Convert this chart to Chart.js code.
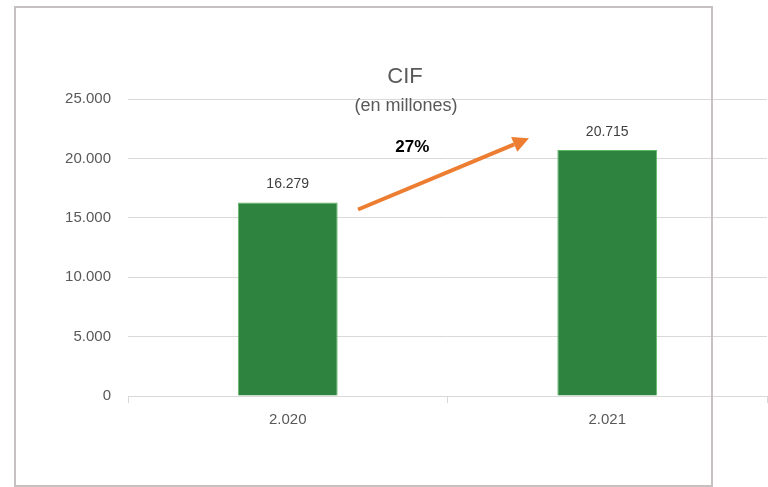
<!DOCTYPE html>
<html>
<head>
<meta charset="utf-8">
<script src="https://cdn.jsdelivr.net/npm/chart.js@4/dist/chart.umd.min.js"></script>
<style>
    html, body { margin: 0; padding: 0; background: #fff; }
    #wrap { position: relative; width: 768px; height: 487px; }
    #marco {
        position: absolute; left: 14px; top: 6px; width: 699px; height: 481px;
        box-sizing: border-box; border: 2px solid #c6c0c0; pointer-events: none;
    }
</style>
</head>
<body>
<div id="wrap">
    <canvas id="graficaCIF" width="768" height="487"></canvas>
    <div id="marco"></div>
</div>
<script>
const anios = ['2.020', '2.021'];
const valoresCIF = [16279, 20715];
const ticksY = [0, 5000, 10000, 15000, 20000, 25000];

// flecha de variacion: [indice categoria, valor]
const flechaDesde = [0.22, 15700];
const flechaHasta = [0.755, 21700];
const posPorcentaje = [0.39, 20960];

const fuente = "'Liberation Sans', Arial, sans-serif";

function formatoMiles(v) {
    return v.toString().replace(/\B(?=(\d{3})+(?!\d))/g, '.');
}

const extras = {
    id: 'extras',
    afterDraw(chart) {
        const ctx = chart.ctx;
        const x = chart.scales.x, y = chart.scales.y;
        ctx.save();

        // titulo
        ctx.fillStyle = '#595959';
        ctx.textAlign = 'center';
        ctx.textBaseline = 'middle';
        ctx.font = `22px ${fuente}`;
        ctx.fillText('CIF', 405, 77);
        ctx.font = `18px ${fuente}`;
        ctx.fillText('(en millones)', 406, 106);

        // etiquetas de valor
        ctx.font = `14px ${fuente}`;
        ctx.fillStyle = '#404040';
        chart.getDatasetMeta(0).data.forEach((bar, i) => {
            ctx.fillText(formatoMiles(valoresCIF[i]), bar.x, bar.y - 18);
        });

        // flecha
        const x1 = x.getPixelForValue(flechaDesde[0]), y1 = y.getPixelForValue(flechaDesde[1]);
        const x2 = x.getPixelForValue(flechaHasta[0]), y2 = y.getPixelForValue(flechaHasta[1]);
        const ang = Math.atan2(y2 - y1, x2 - x1);
        const largo = 16, ancho = 8;
        ctx.strokeStyle = '#ED7D31';
        ctx.fillStyle = '#ED7D31';
        ctx.lineWidth = 4;
        ctx.beginPath();
        ctx.moveTo(x1, y1);
        ctx.lineTo(x2 - Math.cos(ang) * largo, y2 - Math.sin(ang) * largo);
        ctx.stroke();
        ctx.beginPath();
        ctx.moveTo(x2, y2);
        ctx.lineTo(x2 - Math.cos(ang) * largo - Math.sin(ang) * ancho, y2 - Math.sin(ang) * largo + Math.cos(ang) * ancho);
        ctx.lineTo(x2 - Math.cos(ang) * largo + Math.sin(ang) * ancho, y2 - Math.sin(ang) * largo - Math.cos(ang) * ancho);
        ctx.closePath();
        ctx.fill();

        // porcentaje
        const variacion = Math.round((valoresCIF[1] / valoresCIF[0] - 1) * 100);
        ctx.fillStyle = '#000';
        ctx.font = `bold 17px ${fuente}`;
        ctx.fillText(variacion + '%', x.getPixelForValue(posPorcentaje[0]), y.getPixelForValue(posPorcentaje[1]));

        ctx.restore();
    }
};

const ctx = document.getElementById('graficaCIF').getContext('2d');
new Chart(ctx, {
    type: 'bar',
    data: {
        labels: anios,
        datasets: [{
            data: valoresCIF,
            backgroundColor: '#2E843F',
            borderColor: '#5DBB63',
            borderWidth: 1,
            barPercentage: 1,
            categoryPercentage: 0.3125
        }]
    },
    options: {
        responsive: false,
        animation: false,
        layout: { padding: { top: 99, right: 1, left: 1, bottom: 0 } },
        plugins: { legend: { display: false }, tooltip: { enabled: false } },
        scales: {
            x: {
                afterFit: s => { s.height = 91; },
                grid: { drawOnChartArea: false, drawTicks: true, tickLength: 7, color: '#d9d9d9' },
                border: { color: '#d9d9d9' },
                ticks: { color: '#595959', font: { family: fuente, size: 15 }, padding: 8 }
            },
            y: {
                min: 0,
                max: 25000,
                afterFit: s => { s.width = 127; },
                afterBuildTicks: s => { s.ticks = ticksY.map(v => ({ value: v })); },
                grid: { color: '#d9d9d9', drawTicks: false },
                border: { display: false },
                ticks: {
                    color: '#595959',
                    font: { family: fuente, size: 15 },
                    padding: 17,
                    callback: v => formatoMiles(v)
                }
            }
        }
    },
    plugins: [extras]
});
</script>
</body>
</html>
